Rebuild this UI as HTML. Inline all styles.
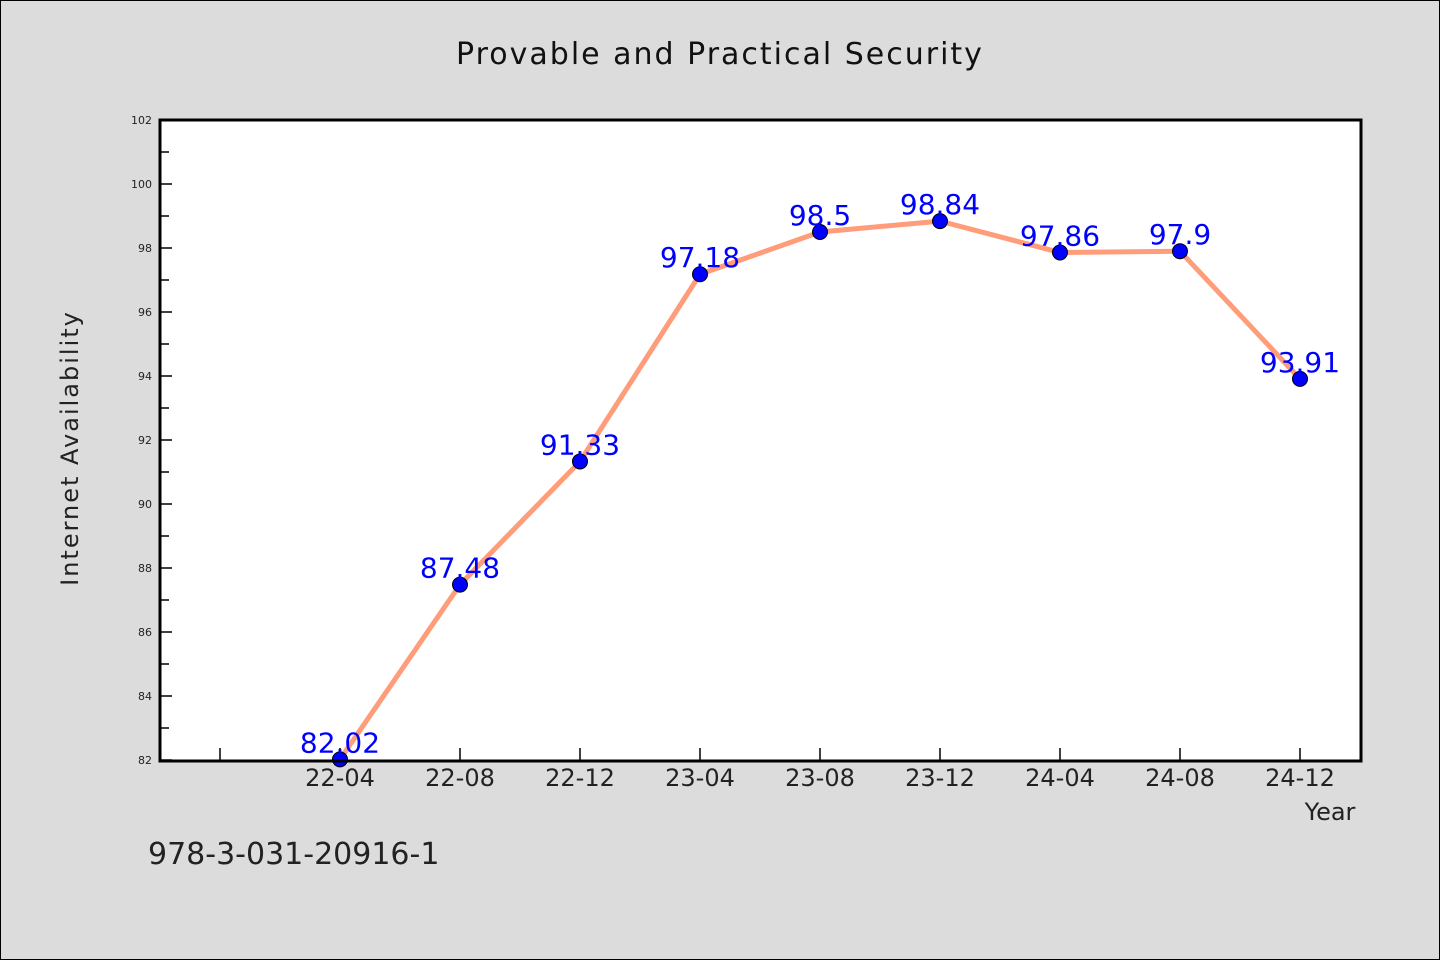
<!DOCTYPE html>
<html><head><meta charset="utf-8"><style>
html,body{margin:0;padding:0;background:#dcdcdc;}
svg{display:block;}
text{font-family:"WenQuanYi Zen Hei","DejaVu Sans",sans-serif;}
</style></head><body>
<svg id="chart" width="1440" height="960">
<rect x="0.5" y="0.5" width="1439" height="959" fill="#dcdcdc" stroke="#000"/>
<text x="720" y="64" text-anchor="middle" font-size="30" letter-spacing="2" fill="#111">Provable and Practical Security</text>
<rect x="160" y="120" width="1201" height="641" fill="#fff"/>
<g id="axes"></g>
<g id="marks"></g>
<rect x="160" y="120" width="1201" height="641" fill="none" stroke="#000" stroke-width="3"/>
<text x="78" y="448" transform="rotate(-90 78 448)" text-anchor="middle" font-size="24" letter-spacing="2" fill="#222">Internet Availability</text>
<text x="1330" y="820" text-anchor="middle" font-size="24" fill="#222">Year</text>
<text x="148" y="864" font-size="30" fill="#222">978-3-031-20916-1</text>
</svg>
<script>
const categories=["22-04","22-08","22-12","23-04","23-08","23-12","24-04","24-08","24-12"];
const values=[82.02,87.48,91.33,97.18,98.5,98.84,97.86,97.9,93.91];
const valueLabels=["82.02","87.48","91.33","97.18","98.5","98.84","97.86","97.9","93.91"];
const yTicks=[82,84,86,88,90,92,94,96,98,100,102];
const yMin=82,yMax=102;
const ns="http://www.w3.org/2000/svg";
function y(v){return 760-(v-yMin)/(yMax-yMin)*640;}
function x(i){return 340+i*120;}
function mk(tag,attrs,parent){const e=document.createElementNS(ns,tag);for(const k in attrs)e.setAttribute(k,attrs[k]);parent.appendChild(e);return e;}
const axes=document.getElementById('axes'),marks=document.getElementById('marks');
yTicks.forEach((t,i)=>{
  const l=mk('line',{x1:160,x2:172,y1:y(t),y2:y(t),stroke:'#000','stroke-width':1.5},axes);
  
  
  const tx=mk('text',{x:152,y:y(t)+4,'text-anchor':'end','font-size':11,fill:'#222'},axes);
  tx.textContent=t;
  
  
  if(i<yTicks.length-1){
    const m=mk('line',{x1:160,x2:169,y1:y(t+1),y2:y(t+1),stroke:'#000','stroke-width':1.5},axes);
    
    
  }
});
for(let i=-1;i<categories.length;i++){
  const l=mk('line',{x1:x(i),x2:x(i),y1:760,y2:748,stroke:'#000','stroke-width':1.5},axes);
  
  
}
categories.forEach((c,i)=>{
  const t=mk('text',{x:x(i),y:786,'text-anchor':'middle','font-size':24,fill:'#222'},axes);
  t.textContent=c;
  
  
});
const pl=mk('polyline',{points:values.map((v,i)=>x(i)+','+y(v)).join(' '),fill:'none',stroke:'#ff9c7a','stroke-width':5},marks);


values.forEach((v,i)=>{
  const c=mk('circle',{cx:x(i),cy:y(v),r:7.5,fill:'#0000ff',stroke:'#000','stroke-width':1},marks);
  
  
  const t=mk('text',{x:x(i),y:y(v)-7,'text-anchor':'middle','font-size':28,fill:'#0000ff'},marks);
  t.textContent=valueLabels[i];
  
  
});
</script>
</body></html>
